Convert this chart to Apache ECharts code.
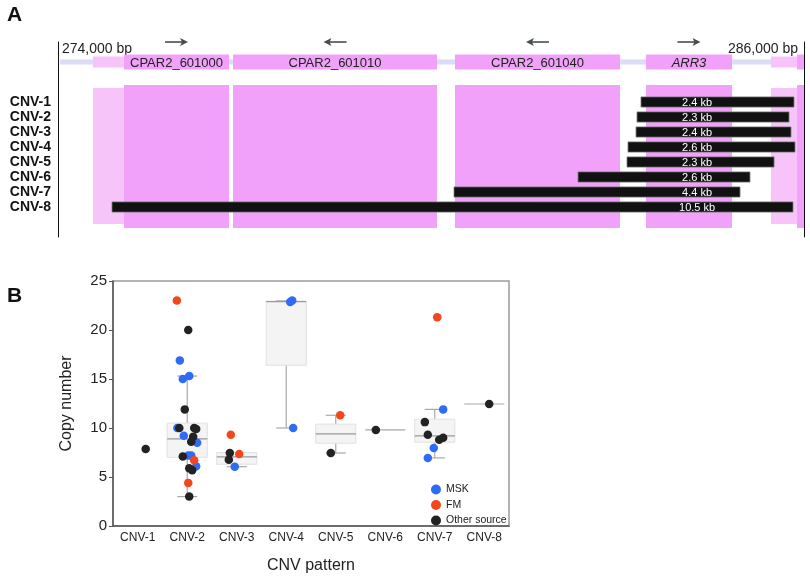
<!DOCTYPE html>
<html><head><meta charset="utf-8">
<script src="https://cdn.jsdelivr.net/npm/echarts@6/dist/echarts.min.js"></script>
<style>html,body{margin:0;padding:0;background:#fff}#c{width:810px;height:580px}</style>
</head><body><div id="c"></div>
<script>
// ---------- Panel A data ----------
const genomeTicks = [274000, 286000];
const featureNames = ['', 'CPAR2_601000', 'CPAR2_601010', 'CPAR2_601040', 'ARR3', '', ''];
const featureStart = [274563, 275062, 276815, 280386, 283458, 285469, 285888];
const featureEnd   = [275062, 276751, 280097, 283040, 284842, 285888, 286000];
const featureKind  = ['utr', 'gene', 'gene', 'gene', 'gene', 'utr', 'gene'];
const featureStrand = [0, 1, -1, -1, 1, 0, 0];
const backboneSpan = [274030, 285900];
const cnvNames = ['CNV-1', 'CNV-2', 'CNV-3', 'CNV-4', 'CNV-5', 'CNV-6', 'CNV-7', 'CNV-8'];
const cnvStart = [283378, 283314, 283298, 283169, 283153, 282365, 280370, 274869];
const cnvEnd   = [285839, 285759, 285791, 285855, 285518, 285131, 284971, 285823];
const cnvSize  = ['2.4 kb', '2.3 kb', '2.4 kb', '2.6 kb', '2.3 kb', '2.6 kb', '4.4 kb', '10.5 kb'];

// ---------- Panel B data ----------
const copyTicks = [0, 5, 10, 15, 20, 25];
const boxMin = [null, 3.0, 6.05, 10.0, 7.45, 9.8, 6.95, 12.45];
const boxQ1  = [null, 7.0, 6.3, 16.4, 8.45, 9.8, 8.55, 12.45];
const boxMed = [null, 8.9, 7.05, 22.9, 9.4, 9.8, 9.2, 12.45];
const boxQ3  = [null, 10.5, 7.5, 22.95, 10.4, 9.8, 10.9, 12.45];
const boxMax = [null, 15.3, 7.5, 23.0, 11.3, 9.8, 11.9, 12.45];
const mskPoints = [[1.85,16.9],[1.91,15.0],[2.04,15.3],[1.80,10.0],[1.93,9.2],[2.20,8.5],[2.02,7.2],[2.08,7.2],[2.18,6.1],
  [2.96,6.05],[4.08,22.85],[4.12,23.0],[4.14,10.0],[7.17,11.9],[6.98,7.95],[6.86,6.95]];
const fmPoints = [[1.79,23.0],[2.14,6.7],[2.02,4.4],[2.88,9.3],[3.05,7.35],[5.09,11.3],[7.05,21.3]];
const otherPoints = [[1.16,7.85],[2.02,20.0],[1.95,11.9],[1.84,10.0],[2.14,10.0],[2.18,9.9],[2.12,9.1],[2.08,8.6],[1.91,7.1],
  [2.04,5.9],[2.10,5.7],[2.04,3.0],[2.86,7.45],[2.84,6.75],[4.90,7.45],[5.81,9.8],[6.80,10.6],[6.86,9.3],[7.17,9.0],[7.09,8.8],[8.10,12.45]];

// ---------- layout constants ----------
const FONT = "'Liberation Sans', Arial, sans-serif";
const geneRow = -1.667, arrowRow = -3, labelBp = 284280;
const PINK = '#f1a1f9', LIGHTPINK = '#f7c4fa';

function renderFeature(params, api) {
  const i = params.dataIndex;
  const isGene = featureKind[i] === 'gene';
  const rowPx = api.size([0, 1])[1];
  const a = api.coord([featureStart[i], geneRow]);
  const b = api.coord([featureEnd[i], geneRow]);
  const h = (isGene ? 1.0 : 0.73) * rowPx;
  const top = api.coord([featureStart[i], isGene ? -0.133 : 0.067]);
  const bot = api.coord([featureStart[i], isGene ? 9.4 : 9.133]);
  const fill = isGene ? PINK : LIGHTPINK;
  const children = [
    {type: 'rect', shape: {x: a[0], y: a[1] - h / 2, width: b[0] - a[0], height: h}, style: {fill}},
    {type: 'rect', shape: {x: a[0], y: top[1], width: b[0] - a[0], height: bot[1] - top[1]}, style: {fill}}
  ];
  if (featureNames[i]) {
    children.push({type: 'text', style: {text: featureNames[i], x: (a[0] + b[0]) / 2, y: a[1] + 1, align: 'center', verticalAlign: 'middle',
      fill: '#222', fontSize: 13, fontFamily: FONT, fontStyle: featureNames[i] === 'ARR3' ? 'italic' : 'normal'}});
  }
  if (featureStrand[i] !== 0) {
    const c = api.coord([(featureStart[i] + featureEnd[i]) / 2, arrowRow]);
    const half = 11.5, dir = featureStrand[i];
    const tip = c[0] + dir * half, tail = c[0] - dir * half;
    children.push({type: 'line', shape: {x1: tail, y1: c[1], x2: tip - dir * 3, y2: c[1]}, style: {stroke: '#474d4d', lineWidth: 1.6}});
    children.push({type: 'polygon', shape: {points: [[tip, c[1]], [tip - dir * 8, c[1] - 4], [tip - dir * 6, c[1]], [tip - dir * 8, c[1] + 4]]}, style: {fill: '#474d4d'}});
  }
  return {type: 'group', children};
}

function renderBackbone(params, api) {
  const a = api.coord([backboneSpan[0], geneRow]);
  const b = api.coord([backboneSpan[1], geneRow]);
  return {type: 'rect', shape: {x: a[0], y: a[1] - 2.5, width: b[0] - a[0], height: 5}, style: {fill: '#dcdcf6'}};
}

function renderCnv(params, api) {
  const i = params.dataIndex;
  const a = api.coord([cnvStart[i], i + 1]);
  const b = api.coord([cnvEnd[i], i + 1]);
  const h = api.size([0, 1])[1] * 0.68;
  const lx = api.coord([labelBp, i + 1])[0];
  return {type: 'group', children: [
    {type: 'rect', shape: {x: a[0], y: a[1] - h / 2, width: b[0] - a[0], height: h}, style: {fill: '#111', stroke: '#777', lineWidth: 0.8}},
    {type: 'text', style: {text: cnvSize[i], x: lx, y: a[1] + 0.5, align: 'center', verticalAlign: 'middle', fill: '#fff', fontSize: 11, fontFamily: FONT}}
  ]};
}

function renderBox(params, api) {
  const i = params.dataIndex;
  if (boxMin[i] == null) return null;
  const band = api.size([1, 0])[0];
  const w = band * 0.81, cw = w / 2;
  const pMin = api.coord([i, boxMin[i]]), pQ1 = api.coord([i, boxQ1[i]]), pMed = api.coord([i, boxMed[i]]);
  const pQ3 = api.coord([i, boxQ3[i]]), pMax = api.coord([i, boxMax[i]]);
  const x = pMin[0];
  const whisk = {stroke: '#a8a8a8', lineWidth: 1.2};
  const children = [];
  if (pQ1[1] - pQ3[1] < 0.5) {
    children.push({type: 'line', shape: {x1: x - w / 2, y1: pMed[1], x2: x + w / 2, y2: pMed[1]}, style: whisk});
    return {type: 'group', children};
  }
  children.push({type: 'line', shape: {x1: x, y1: pQ3[1], x2: x, y2: pMax[1]}, style: whisk});
  children.push({type: 'line', shape: {x1: x, y1: pQ1[1], x2: x, y2: pMin[1]}, style: whisk});
  children.push({type: 'line', shape: {x1: x - cw / 2, y1: pMax[1], x2: x + cw / 2, y2: pMax[1]}, style: whisk});
  children.push({type: 'line', shape: {x1: x - cw / 2, y1: pMin[1], x2: x + cw / 2, y2: pMin[1]}, style: whisk});
  children.push({type: 'rect', shape: {x: x - w / 2, y: pQ3[1], width: w, height: pQ1[1] - pQ3[1]}, style: {fill: '#f4f4f4', stroke: '#e2e2e2', lineWidth: 1}});
  children.push({type: 'line', shape: {x1: x - w / 2, y1: pMed[1], x2: x + w / 2, y2: pMed[1]}, style: {stroke: '#9a9a9a', lineWidth: 1.2}});
  return {type: 'group', children};
}

const chart = echarts.init(document.getElementById('c'), null, {renderer: 'canvas'});
chart.setOption({
  animation: false,
  textStyle: {fontFamily: FONT},
  title: [
    {text: 'A', left: 7, top: 5, padding: 0, textStyle: {fontSize: 21, fontWeight: 'bold', color: '#111', fontFamily: FONT}},
    {text: 'B', left: 7, top: 286, padding: 0, textStyle: {fontSize: 21, fontWeight: 'bold', color: '#111', fontFamily: FONT}}
  ],
  legend: {
    data: ['MSK', 'FM', 'Other source'], orient: 'vertical', left: 431, top: 484, padding: 0,
    itemWidth: 10, itemHeight: 10, itemGap: 4.5, icon: 'circle',
    textStyle: {fontSize: 10.5, color: '#222', fontFamily: FONT}
  },
  grid: [
    {left: 58, right: 6, top: 42, height: 195},
    {left: 113, width: 396, top: 281, height: 245, show: true, borderColor: '#9a9a9a', borderWidth: 1.5}
  ],
  xAxis: [
    {gridIndex: 0, type: 'value', min: genomeTicks[0], max: genomeTicks[1], interval: genomeTicks[1] - genomeTicks[0],
      position: 'top', offset: -17, axisLine: {show: false}, axisTick: {show: false}, splitLine: {show: false},
      axisLabel: {fontSize: 14, color: '#222', margin: 3, alignMinLabel: 'left', alignMaxLabel: 'right', padding: [0, 6, 0, 4],
        formatter: v => v.toLocaleString('en-US') + ' bp'}},
    {gridIndex: 1, type: 'category', data: cnvNames, boundaryGap: true,
      axisLine: {lineStyle: {color: '#555', width: 1.5}}, axisTick: {alignWithLabel: true, length: 4, lineStyle: {color: '#555'}},
      axisLabel: {fontSize: 12, color: '#222', margin: 6},
      name: 'CNV pattern', nameLocation: 'middle', nameGap: 32, nameTextStyle: {fontSize: 16, color: '#222'}},
    {gridIndex: 1, type: 'value', min: 0.5, max: 8.5, show: false}
  ],
  yAxis: [
    {gridIndex: 0, type: 'value', min: -3, max: 10, interval: 1, inverse: true,
      axisLine: {show: true, lineStyle: {color: '#111', width: 1}}, axisTick: {show: false}, splitLine: {show: false},
      axisLabel: {fontSize: 14, fontWeight: 'bold', color: '#111', margin: 7, padding: [0, 0, 3, 0],
        formatter: v => (v >= 1 && v <= 8) ? cnvNames[v - 1] : ''}},
    {gridIndex: 0, type: 'value', min: -3, max: 10, inverse: true, position: 'right',
      axisLine: {show: true, lineStyle: {color: '#111', width: 1}}, axisTick: {show: false}, axisLabel: {show: false}, splitLine: {show: false}},
    {gridIndex: 1, type: 'value', min: copyTicks[0], max: copyTicks[copyTicks.length - 1], interval: copyTicks[1] - copyTicks[0],
      axisLine: {show: true, lineStyle: {color: '#555', width: 1.5}}, axisTick: {show: true, length: 4, lineStyle: {color: '#555'}},
      splitLine: {show: false}, axisLabel: {fontSize: 15, color: '#222', margin: 6},
      name: 'Copy number', nameLocation: 'middle', nameGap: 38, nameRotate: 90, nameTextStyle: {fontSize: 16, color: '#222'}}
  ],
  series: [
    {type: 'custom', name: 'backbone', xAxisIndex: 0, yAxisIndex: 0, renderItem: renderBackbone, clip: false, silent: true,
      data: [[backboneSpan[0], backboneSpan[1], geneRow]], encode: {x: [0, 1], y: 2}, z: 1},
    {type: 'custom', name: 'features', xAxisIndex: 0, yAxisIndex: 0, renderItem: renderFeature, clip: false, silent: true,
      data: featureStart.map((s, i) => [s, featureEnd[i], geneRow]), encode: {x: [0, 1], y: 2}, z: 2},
    {type: 'custom', name: 'cnv', xAxisIndex: 0, yAxisIndex: 0, renderItem: renderCnv, clip: false, silent: true,
      data: cnvStart.map((s, i) => [s, cnvEnd[i], i + 1]), encode: {x: [0, 1], y: 2}, z: 3},
    {type: 'custom', name: 'box', xAxisIndex: 1, yAxisIndex: 2, renderItem: renderBox, silent: true,
      data: cnvNames.map((n, i) => [i, boxMin[i] == null ? 0 : boxMin[i], boxMax[i] == null ? 0 : boxMax[i]]),
      encode: {x: 0, y: [1, 2]}, z: 2},
    {type: 'scatter', name: 'MSK', xAxisIndex: 2, yAxisIndex: 2, data: mskPoints, symbolSize: 8.5, itemStyle: {color: '#2f6cf6', opacity: 1}, z: 3},
    {type: 'scatter', name: 'FM', xAxisIndex: 2, yAxisIndex: 2, data: fmPoints, symbolSize: 8.5, itemStyle: {color: '#f4461a', opacity: 1}, z: 3},
    {type: 'scatter', name: 'Other source', xAxisIndex: 2, yAxisIndex: 2, data: otherPoints, symbolSize: 8.5, itemStyle: {color: '#222222', opacity: 1}, z: 4}
  ]
});
</script></body></html>
